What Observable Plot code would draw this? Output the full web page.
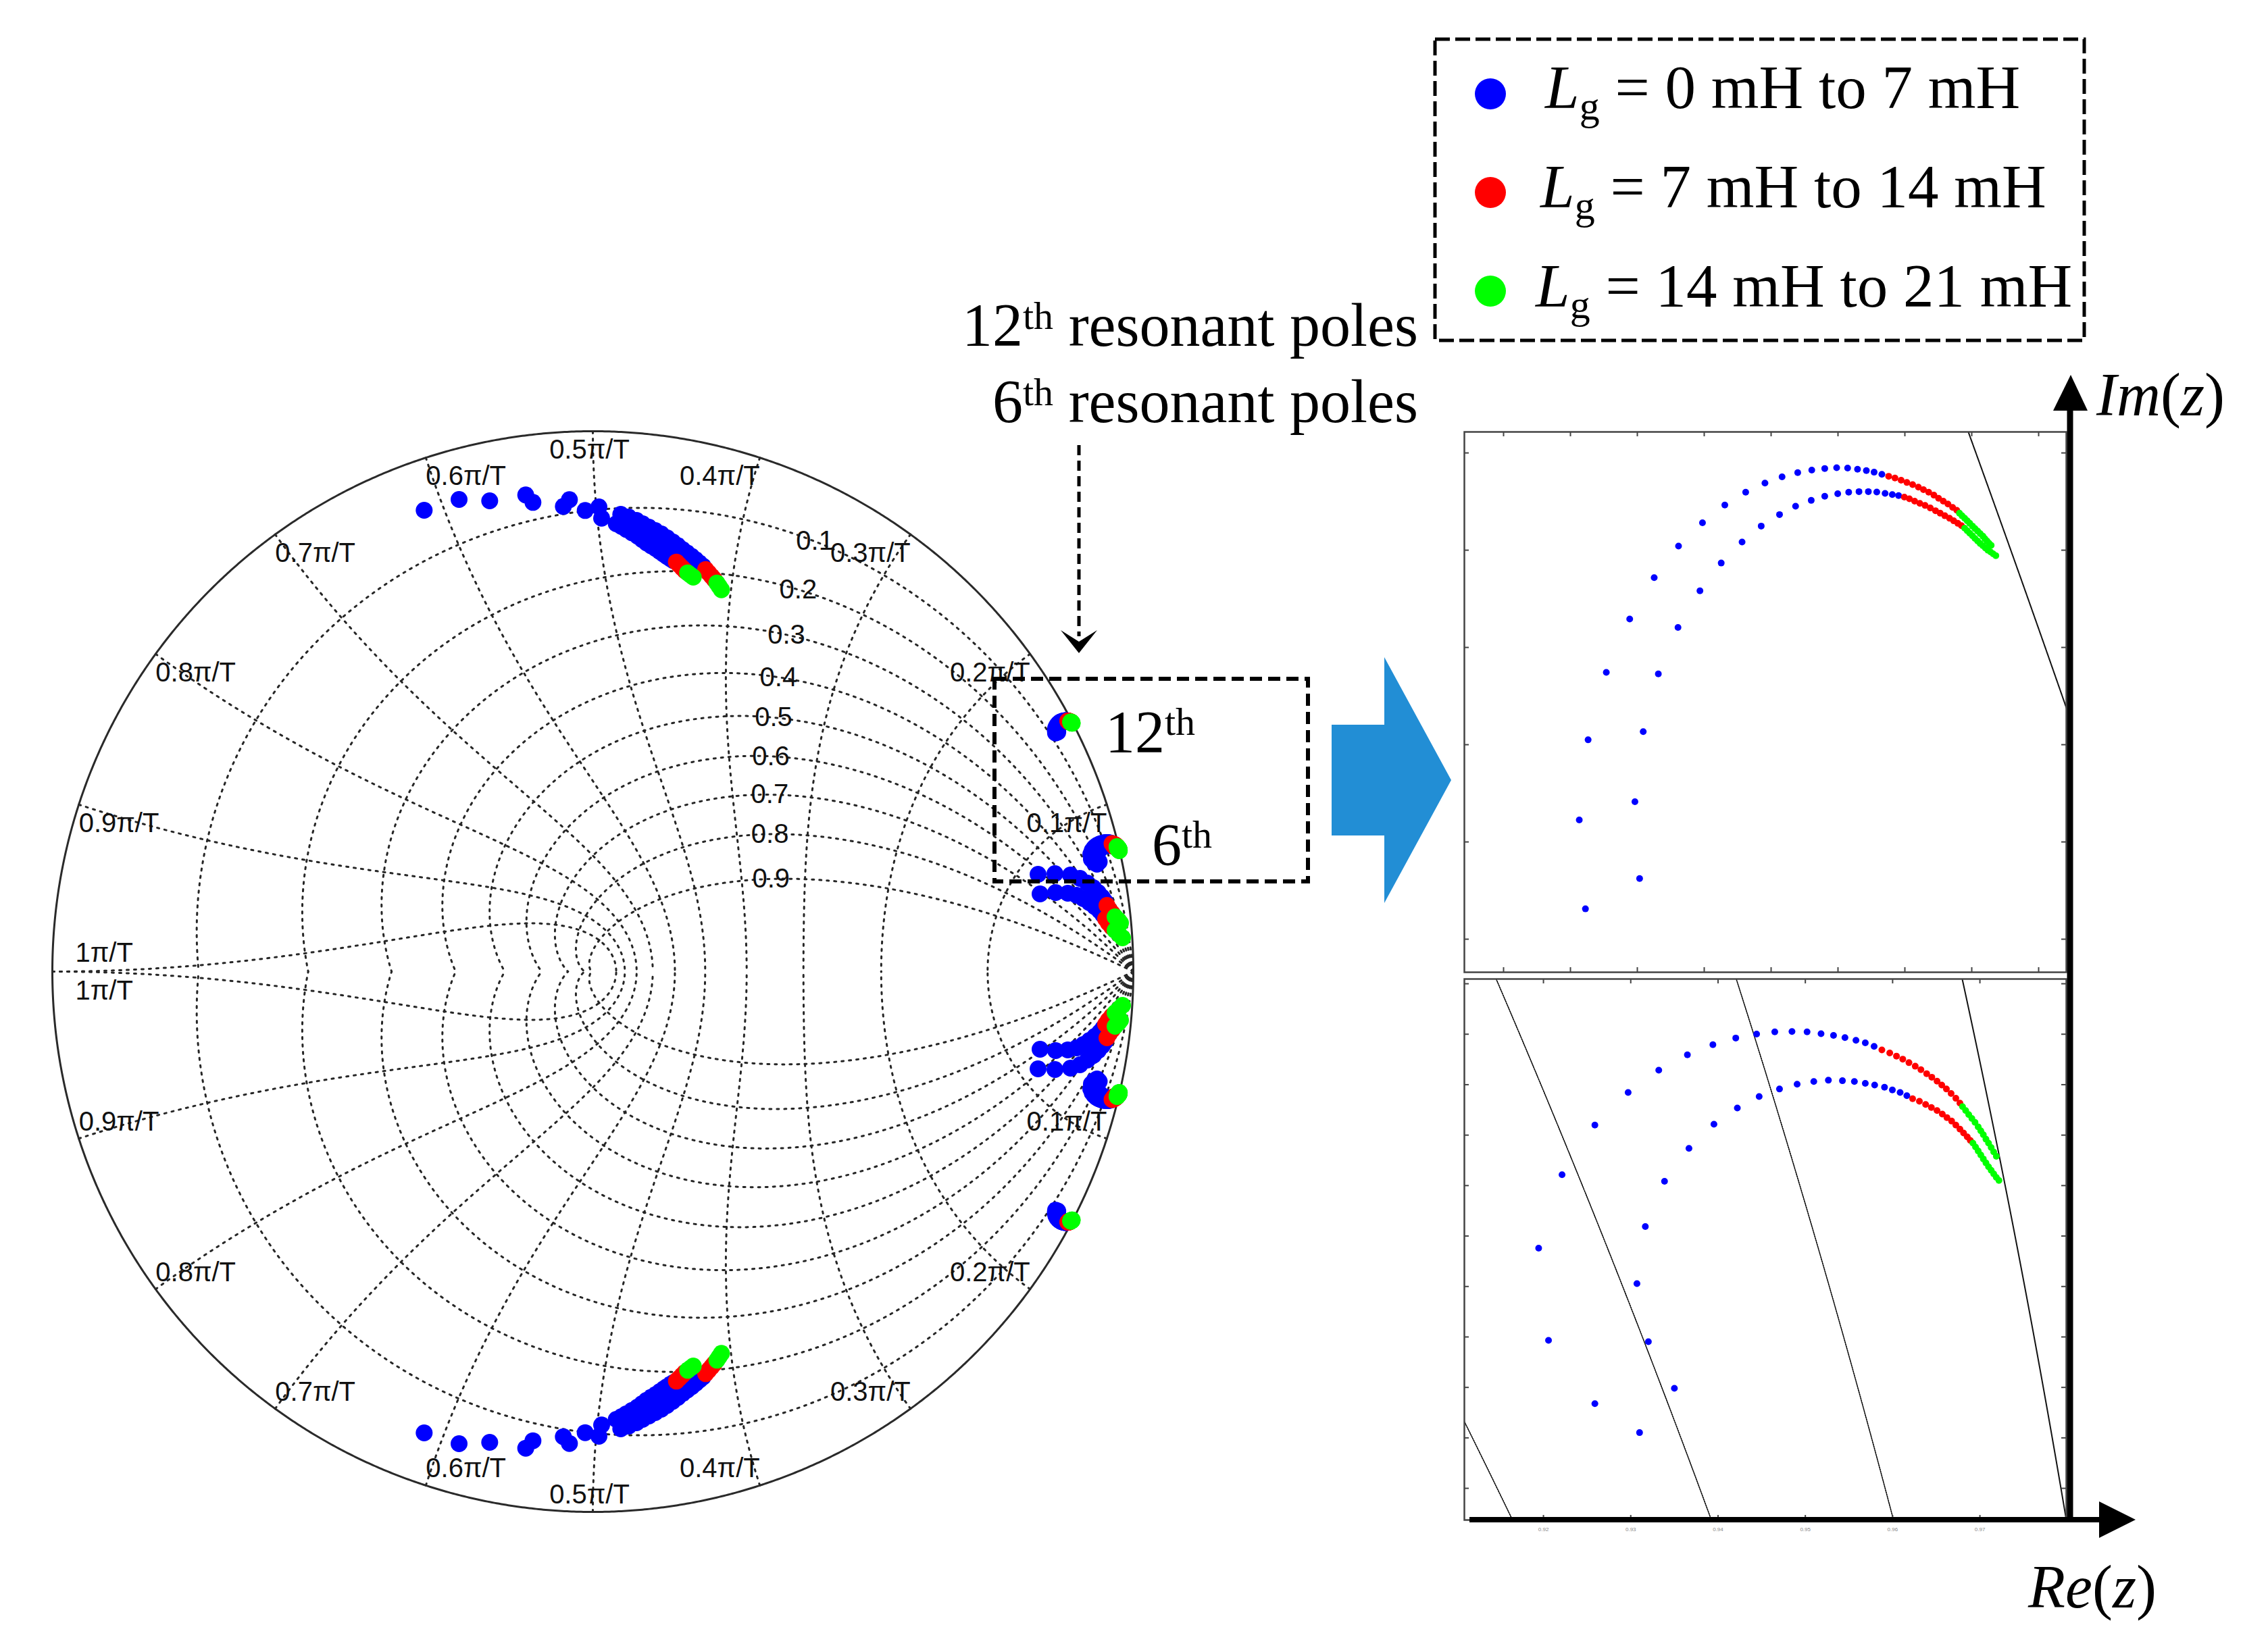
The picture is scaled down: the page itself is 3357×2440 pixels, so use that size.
<!DOCTYPE html>
<html><head><meta charset="utf-8">
<script src="https://cdn.jsdelivr.net/npm/d3@7"></script>
<script src="https://cdn.jsdelivr.net/npm/@observablehq/plot@0.6"></script>
<style>
html,body{margin:0;padding:0;background:#fff;}
#fig{position:relative;width:3357px;height:2440px;background:#fff;overflow:hidden;}
#fig > svg{position:absolute;left:0;top:0;}
</style></head><body><div id="fig"></div>
<script>
// ================= DATA =================
const lgRanges = ["0 mH to 7 mH", "7 mH to 14 mH", "14 mH to 21 mH"];
const lgColors = ["#0000ff", "#ff0000", "#00ff00"];
const wnTicks = [0.1, 0.2, 0.3, 0.4, 0.5, 0.6, 0.7, 0.8, 0.9, 1];
const wnText = ["0.1\u03c0/T","0.2\u03c0/T","0.3\u03c0/T","0.4\u03c0/T","0.5\u03c0/T","0.6\u03c0/T","0.7\u03c0/T","0.8\u03c0/T","0.9\u03c0/T","1\u03c0/T"];
const zetaTicks = [0.1, 0.2, 0.3, 0.4, 0.5, 0.6, 0.7, 0.8, 0.9];

// pole loci in the z-plane: [Re, Im]  (upper half; the lower half is the conjugate)
// 12th resonant poles, branch a / b
const h12aBlue = [[0.85612,0.44156],[0.85566,0.44613],[0.85632,0.45025],[0.85768,0.45372],[0.85943,0.45646],[0.86126,0.45859],[0.86308,0.46021],[0.86487,0.46141],[0.86654,0.46232],[0.86810,0.46298],[0.86954,0.46345],[0.87082,0.46377],[0.87199,0.46399],[0.87304,0.46412],[0.87401,0.46420],[0.87490,0.46424],[0.87572,0.46422],[0.87646,0.46416],[0.87712,0.46409],[0.87770,0.46401],[0.87828,0.46390]];
const h12aRed = [[0.87879,0.46380],[0.87926,0.46371],[0.87972,0.46360],[0.88015,0.46348],[0.88058,0.46337],[0.88101,0.46324],[0.88139,0.46311],[0.88178,0.46298],[0.88217,0.46283],[0.88252,0.46267],[0.88287,0.46252],[0.88322,0.46237],[0.88357,0.46220],[0.88388,0.46205]];
const h12aGreen = [[0.88408,0.46190],[0.88427,0.46177],[0.88447,0.46164],[0.88466,0.46151],[0.88485,0.46138],[0.88505,0.46124],[0.88524,0.46111],[0.88544,0.46098],[0.88563,0.46085],[0.88583,0.46072],[0.88598,0.46059],[0.88614,0.46047],[0.88629,0.46036],[0.88645,0.46025]];
const h12bBlue = [[0.86017,0.44312],[0.85982,0.44707],[0.86044,0.45067],[0.86157,0.45364],[0.86304,0.45603],[0.86468,0.45791],[0.86627,0.45934],[0.86783,0.46042],[0.86926,0.46124],[0.87063,0.46183],[0.87183,0.46226],[0.87300,0.46256],[0.87401,0.46277],[0.87498,0.46290],[0.87580,0.46298],[0.87657,0.46301],[0.87727,0.46301],[0.87790,0.46299],[0.87852,0.46292],[0.87906,0.46286],[0.87953,0.46281]];
const h12bRed = [[0.87996,0.46273],[0.88034,0.46264],[0.88073,0.46252],[0.88112,0.46241],[0.88151,0.46230],[0.88190,0.46217],[0.88229,0.46203],[0.88264,0.46190],[0.88299,0.46177],[0.88334,0.46164],[0.88365,0.46151],[0.88396,0.46138],[0.88423,0.46126]];
const h12bGreen = [[0.88447,0.46113],[0.88466,0.46100],[0.88485,0.46087],[0.88505,0.46074],[0.88524,0.46060],[0.88544,0.46047],[0.88563,0.46034],[0.88583,0.46023],[0.88602,0.46011],[0.88621,0.46000],[0.88641,0.45991],[0.88660,0.45981],[0.88680,0.45972]];
// 6th resonant poles, branch a / b
const h6aBlue = [[0.92774,0.20172],[0.92243,0.20799],[0.92130,0.21713],[0.92398,0.22441],[0.92774,0.22933],[0.93155,0.23255],[0.93506,0.23477],[0.93834,0.23629],[0.94126,0.23729],[0.94388,0.23795],[0.94627,0.23834],[0.94835,0.23856],[0.95032,0.23860],[0.95205,0.23856],[0.95365,0.23838],[0.95508,0.23821],[0.95639,0.23799],[0.95765,0.23773],[0.95872,0.23747],[0.95973,0.23712]];
const h6aRed = [[0.96062,0.23677],[0.96152,0.23647],[0.96229,0.23616],[0.96301,0.23586],[0.96372,0.23551],[0.96444,0.23516],[0.96509,0.23481],[0.96575,0.23442],[0.96634,0.23407],[0.96694,0.23368],[0.96748,0.23329],[0.96801,0.23290],[0.96855,0.23246],[0.96909,0.23198],[0.96956,0.23150]];
const h6aGreen = [[0.96986,0.23115],[0.97022,0.23076],[0.97057,0.23037],[0.97093,0.22998],[0.97129,0.22959],[0.97165,0.22915],[0.97195,0.22876],[0.97224,0.22837],[0.97254,0.22793],[0.97284,0.22754],[0.97314,0.22710],[0.97343,0.22667],[0.97373,0.22623]];
const h6bBlue = [[0.93286,0.19885],[0.93685,0.20324],[0.93387,0.20786],[0.93256,0.21361],[0.93352,0.21927],[0.93572,0.22375],[0.93852,0.22702],[0.94138,0.22941],[0.94406,0.23102],[0.94656,0.23216],[0.94889,0.23290],[0.95091,0.23337],[0.95282,0.23364],[0.95449,0.23377],[0.95610,0.23372],[0.95747,0.23364],[0.95872,0.23346],[0.95979,0.23329],[0.96092,0.23307],[0.96182,0.23281],[0.96271,0.23255],[0.96348,0.23224]];
const h6bRed = [[0.96414,0.23194],[0.96492,0.23168],[0.96563,0.23137],[0.96629,0.23107],[0.96694,0.23076],[0.96754,0.23041],[0.96807,0.23007],[0.96861,0.22972],[0.96909,0.22933],[0.96956,0.22893],[0.96998,0.22854],[0.97040,0.22815],[0.97075,0.22780]];
const h6bGreen = [[0.97105,0.22754],[0.97135,0.22715],[0.97165,0.22676],[0.97195,0.22636],[0.97224,0.22597],[0.97254,0.22558],[0.97284,0.22519],[0.97314,0.22484],[0.97343,0.22449],[0.97373,0.22414],[0.97403,0.22384]];
// poles near 0.45 pi/T, branch e / f
const topEBlue = [[-0.31208,0.85375],[-0.19083,0.87125],[-0.12417,0.88208],[-0.04333,0.87333],[0.01125,0.86],[0.05167,0.84625],[0.06625,0.84125],[0.08083,0.835],[0.09208,0.82875],[0.10375,0.8225],[0.11542,0.81625],[0.12667,0.81],[0.13708,0.80292],[0.1475,0.79542],[0.15708,0.78833],[0.16625,0.78083],[0.17458,0.77458],[0.18292,0.76833],[0.19042,0.76208],[0.1975,0.75583],[0.20375,0.75042]];
const topERed = [[0.20875,0.74417],[0.21417,0.73792],[0.21958,0.73167],[0.22458,0.72583]];
const topEGreen = [[0.22958,0.71917],[0.23375,0.71292],[0.23792,0.70667]];
const topFBlue = [[-0.2475,0.87375],[-0.11083,0.86833],[-0.05458,0.86083],[-0.01417,0.85333],[0.01625,0.83917],[0.04333,0.82875],[0.05292,0.82375],[0.06208,0.81833],[0.0725,0.81208],[0.08292,0.80583],[0.09125,0.79958],[0.09958,0.79333],[0.10792,0.78792],[0.11625,0.78292],[0.12375,0.7775],[0.13083,0.7725],[0.13708,0.76833],[0.14333,0.76417],[0.14875,0.76083]];
const topFRed = [[0.15458,0.75792],[0.16,0.7525],[0.16542,0.74708],[0.17042,0.74208]];
const topFGreen = [[0.17542,0.73792],[0.18083,0.73375],[0.18583,0.73]];
// low-frequency poles, branch g / h
const lowGBlue = [[0.82375,0.18],[0.855,0.18125],[0.88375,0.17875],[0.90125,0.1725],[0.915,0.16375],[0.92625,0.155],[0.935,0.14625],[0.9425,0.1375],[0.9475,0.13]];
const lowGRed = [[0.95125,0.1225],[0.95625,0.11375],[0.96125,0.1075]];
const lowGGreen = [[0.96625,0.10125],[0.9725,0.095],[0.97625,0.09]];
const lowHBlue = [[0.8275,0.14375],[0.85625,0.14625],[0.87875,0.145],[0.895,0.14125],[0.9075,0.135],[0.91875,0.1275],[0.92875,0.12],[0.9375,0.1125],[0.94375,0.105]];
const lowHRed = [[0.94875,0.0975],[0.95375,0.09],[0.96,0.0825]];
const lowHGreen = [[0.96625,0.07625],[0.97375,0.06875],[0.98,0.0625]];

// ================= LAYOUT =================
const W = 3357, H = 2440;
const sans = "'Liberation Sans', Arial, Helvetica, sans-serif";
const serif = "'Liberation Serif', 'Times New Roman', serif";
const fig = document.getElementById("fig");

function toRows(sets, c, conj) {
  const out = [];
  for (const s of sets) for (const [re, im] of s) {
    out.push({re, im, c});
    if (conj) out.push({re, im: -im, c});
  }
  return out;
}
const allBlue = [h12aBlue, h12bBlue, h6aBlue, h6bBlue, topEBlue, topFBlue, lowGBlue, lowHBlue];
const allRed = [h12aRed, h12bRed, h6aRed, h6bRed, topERed, topFRed, lowGRed, lowHRed];
const allGreen = [h12aGreen, h12bGreen, h6aGreen, h6bGreen, topEGreen, topFGreen, lowGGreen, lowHGreen];
const mainPoles = [
  ...toRows(allBlue, lgColors[0], true),
  ...toRows(allRed, lgColors[1], true),
  ...toRows(allGreen, lgColors[2], true)
];

// ---- z-plane grid (zgrid) ----
const zetaGrid = [];
zetaTicks.forEach(zeta => {
  const s = Math.sqrt(1 - zeta * zeta), wmax = Math.PI / s;
  for (const sg of [1, -1]) {
    for (let i = 0; i <= 800; i++) {
      const w = wmax * i / 800, r = Math.exp(-zeta * w);
      zetaGrid.push({id: "z" + zeta + sg, x: r * Math.cos(s * w), y: sg * r * Math.sin(s * w)});
    }
  }
});
const wnGrid = [];
wnTicks.forEach(k => {
  const wn = k * Math.PI;
  for (const sg of [1, -1]) {
    for (let i = 0; i <= 400; i++) {
      const zeta = Math.sin(Math.PI / 2 * i / 400);
      const r = Math.exp(-zeta * wn), a = wn * Math.sqrt(Math.max(0, 1 - zeta * zeta));
      wnGrid.push({id: "w" + k + sg, x: r * Math.cos(a), y: sg * r * Math.sin(a)});
    }
  }
});
const unitCircle = d3.range(0, 1441).map(i => ({x: Math.cos(i / 1440 * 2 * Math.PI), y: Math.sin(i / 1440 * 2 * Math.PI)}));

const wnPts = [];
wnTicks.forEach((k, i) => {
  const a = k * Math.PI;
  const anchor = k < 0.5 ? "end" : (k > 0.5 ? "start" : "middle");
  wnPts.push({x: Math.cos(a), y: Math.sin(a), t: wnText[i], anchor, half: 1, k});
  wnPts.push({x: Math.cos(a), y: -Math.sin(a), t: wnText[i], anchor, half: -1, k});
});
const zetaPts = zetaTicks.map(zeta => {
  const w = 1.1, r = Math.exp(-zeta * w), a = w * Math.sqrt(1 - zeta * zeta);
  return {x: r * Math.cos(a), y: r * Math.sin(a), t: String(zeta)};
});
const wnMark = (f, anchor, dy, dx) => Plot.text(wnPts.filter(f), {
  x: "x", y: "y", text: "t", textAnchor: anchor, dy, dx: dx || 0,
  fontSize: 40, fontFamily: sans, fill: "#111"
});

const mainPlot = Plot.plot({
  width: W, height: H,
  marginLeft: 77, marginRight: W - 1677, marginTop: 638, marginBottom: H - 2238,
  x: {domain: [-1, 1], axis: null},
  y: {domain: [-1, 1], axis: null},
  color: {type: "identity"},
  style: {background: "transparent", overflow: "visible"},
  marks: [
    Plot.line(zetaGrid, {x: "x", y: "y", z: "id", stroke: "#262626", strokeWidth: 3, strokeDasharray: "3,8"}),
    Plot.line(wnGrid, {x: "x", y: "y", z: "id", stroke: "#262626", strokeWidth: 3, strokeDasharray: "3,8"}),
    Plot.line(unitCircle, {x: "x", y: "y", stroke: "#2a2a2a", strokeWidth: 3}),
    wnMark(d => d.half === 1 && d.k < 1 && d.anchor === "end", "end", 28),
    wnMark(d => d.half === 1 && d.k < 1 && d.anchor === "start", "start", 28),
    wnMark(d => d.half === 1 && d.anchor === "middle", "middle", 28, -5),
    wnMark(d => d.half === -1 && d.k < 1 && d.anchor === "end", "end", -25),
    wnMark(d => d.half === -1 && d.k < 1 && d.anchor === "start", "start", -25),
    wnMark(d => d.half === -1 && d.anchor === "middle", "middle", -25, -5),
    wnMark(d => d.k === 1 && d.half === 1, "start", -27, 34),
    wnMark(d => d.k === 1 && d.half === -1, "start", 29, 34),
    Plot.text(zetaPts, {x: "x", y: "y", text: "t", fontSize: 40, fontFamily: sans, fill: "#111"}),
    Plot.dot(mainPoles, {x: "re", y: "im", r: 12.5, fill: "c", stroke: null})
  ]
});
fig.appendChild(mainPlot);

// ---- zoom panels ----
function zoomPanel(cfg, blue, red, green) {
  const {x0, x1, y0, y1, left, right, top, bottom, xTicks, yTicks, labels} = cfg;
  const fw = right - left, fh = bottom - top;
  const mx = (x1 - x0) * 0.02, my = (y1 - y0) * 0.02;
  const inWin = p => p.x > x0 - mx && p.x < x1 + mx && p.y > y0 - my && p.y < y1 + my;
  const zz = [];
  zetaTicks.forEach(zeta => {
    const s = Math.sqrt(1 - zeta * zeta);
    for (let i = 0; i <= 14000; i++) {
      const w = i * 0.00005, r = Math.exp(-zeta * w);
      const p = {id: zeta, x: r * Math.cos(s * w), y: r * Math.sin(s * w)};
      if (inWin(p)) zz.push(p);
    }
  });
  const cc = [];
  for (let i = 0; i <= 35000; i++) {
    const a = i * 0.00002, p = {x: Math.cos(a), y: Math.sin(a)};
    if (inWin(p)) cc.push(p);
  }
  const pts = [...toRows(blue, lgColors[0]), ...toRows(red, lgColors[1]), ...toRows(green, lgColors[2])];
  const tk = {stroke: "#444", strokeWidth: 2};
  const marks = [
    Plot.line(zz, {x: "x", y: "y", z: "id", stroke: "#000", strokeWidth: 1.6, strokeDasharray: "1.6,1.6", clip: true}),
    Plot.line(cc, {x: "x", y: "y", stroke: "#111", strokeWidth: 2, clip: true}),
    Plot.dot(pts, {x: "re", y: "im", r: 5, fill: "c", stroke: null}),
    Plot.tickX(xTicks, {x: d => d, ...tk, insetBottom: fh - 7}),
    Plot.tickX(xTicks, {x: d => d, ...tk, insetTop: fh - 7}),
    Plot.tickY(yTicks, {y: d => d, ...tk, insetRight: fw - 7}),
    Plot.tickY(yTicks, {y: d => d, ...tk, insetLeft: fw - 7}),
    Plot.frame({stroke: "#444", strokeWidth: 2.5})
  ];
  if (labels) marks.push(Plot.text(xTicks, {x: d => d, frameAnchor: "bottom", dy: 16, text: d => d.toFixed(2), fontSize: 8, fill: "#888", fontFamily: sans}));
  return Plot.plot({
    width: W, height: H,
    marginLeft: left, marginRight: W - right, marginTop: top, marginBottom: H - bottom,
    x: {domain: [x0, x1], axis: null},
    y: {domain: [y0, y1], axis: null},
    color: {type: "identity"},
    style: {background: "transparent", overflow: "visible"},
    marks
  });
}
fig.appendChild(zoomPanel({
  x0: 0.84707, x1: 0.89207, y0: 0.43830, y1: 0.46608,
  left: 2167, right: 3058, top: 639, bottom: 1439,
  xTicks: d3.range(9).map(k => 0.85 + 0.005 * k),
  yTicks: d3.range(6).map(k => 0.44 + 0.005 * k)
}, [h12aBlue, h12bBlue], [h12aRed, h12bRed], [h12aGreen, h12bGreen]));
fig.appendChild(zoomPanel({
  x0: 0.91279, x1: 0.98175, y0: 0.19019, y1: 0.2438,
  left: 2167, right: 3058, top: 1449, bottom: 2250,
  xTicks: d3.range(6).map(k => 0.92185 + 0.01 * k),
  yTicks: d3.range(11).map(k => 0.19333 + 0.005 * k),
  labels: true
}, [h6aBlue, h6bBlue], [h6aRed, h6bRed], [h6aGreen, h6bGreen]));

// ================= ANNOTATIONS =================
const ann = d3.select(fig).append("svg").attr("width", W).attr("height", H).attr("viewBox", `0 0 ${W} ${H}`);

// legend
ann.append("rect").attr("x", 2124).attr("y", 58).attr("width", 961).attr("height", 446)
  .attr("fill", "none").attr("stroke", "#000").attr("stroke-width", 5).attr("stroke-dasharray", "22,8");
lgColors.forEach((c, i) => {
  ann.append("circle").attr("cx", 2206).attr("cy", 139 + 146 * i).attr("r", 23).attr("fill", c);
  const t = ann.append("text").attr("x", 2287 - 7 * i).attr("y", 160 + 147 * i)
    .attr("font-family", serif).attr("font-size", 91).style("white-space", "pre");
  t.append("tspan").attr("font-style", "italic").text("L");
  t.append("tspan").attr("font-size", 60).attr("dy", 17).text("g");
  t.append("tspan").attr("dy", -17).text(" = " + lgRanges[i]);
});

function supText(x, y, anchor, size, main, sup, rest) {
  const t = ann.append("text").attr("x", x).attr("y", y).attr("text-anchor", anchor)
    .attr("font-family", serif).attr("font-size", size).style("white-space", "pre");
  t.append("tspan").text(main);
  t.append("tspan").attr("dy", -25).attr("font-size", 58).text(sup);
  if (rest) t.append("tspan").attr("dy", 25).text(rest);
}
supText(2099, 512, "end", 90, "12", "th", " resonant poles");
supText(2099, 625, "end", 90, "6", "th", " resonant poles");
supText(1636, 1113, "start", 88, "12", "th");
supText(1705, 1280, "start", 88, "6", "th");

// dashed pointer arrow
ann.append("line").attr("x1", 1597).attr("y1", 659).attr("x2", 1597).attr("y2", 942)
  .attr("stroke", "#000").attr("stroke-width", 5).attr("stroke-dasharray", "15,8");
ann.append("polygon").attr("points", "1570,933 1597,950 1624,933 1597,967").attr("fill", "#000");

// dashed zoom box
ann.append("rect").attr("x", 1472).attr("y", 1005).attr("width", 464).attr("height", 300)
  .attr("fill", "none").attr("stroke", "#000").attr("stroke-width", 6).attr("stroke-dasharray", "18,9");

// blue block arrow
ann.append("polygon").attr("points", "1971,1073 2049,1073 2049,973 2148,1155 2049,1337 2049,1237 1971,1237").attr("fill", "#228ed5");

// axes arrows
ann.append("line").attr("x1", 3064).attr("y1", 600).attr("x2", 3064).attr("y2", 2254).attr("stroke", "#000").attr("stroke-width", 9);
ann.append("polygon").attr("points", "3039,608 3090,608 3065,555").attr("fill", "#000");
ann.append("line").attr("x1", 2175).attr("y1", 2250).attr("x2", 3110).attr("y2", 2250).attr("stroke", "#000").attr("stroke-width", 8);
ann.append("polygon").attr("points", "3107,2223 3107,2277 3161,2250").attr("fill", "#000");

function axisLabel(x, y, a) {
  const t = ann.append("text").attr("x", x).attr("y", y).attr("font-family", serif).attr("font-size", 90);
  t.append("tspan").attr("font-style", "italic").text(a);
  t.append("tspan").text("(");
  t.append("tspan").attr("font-style", "italic").text("z");
  t.append("tspan").text(")");
}
axisLabel(3103, 615, "Im");
axisLabel(3002, 2380, "Re");
</script></body></html>
